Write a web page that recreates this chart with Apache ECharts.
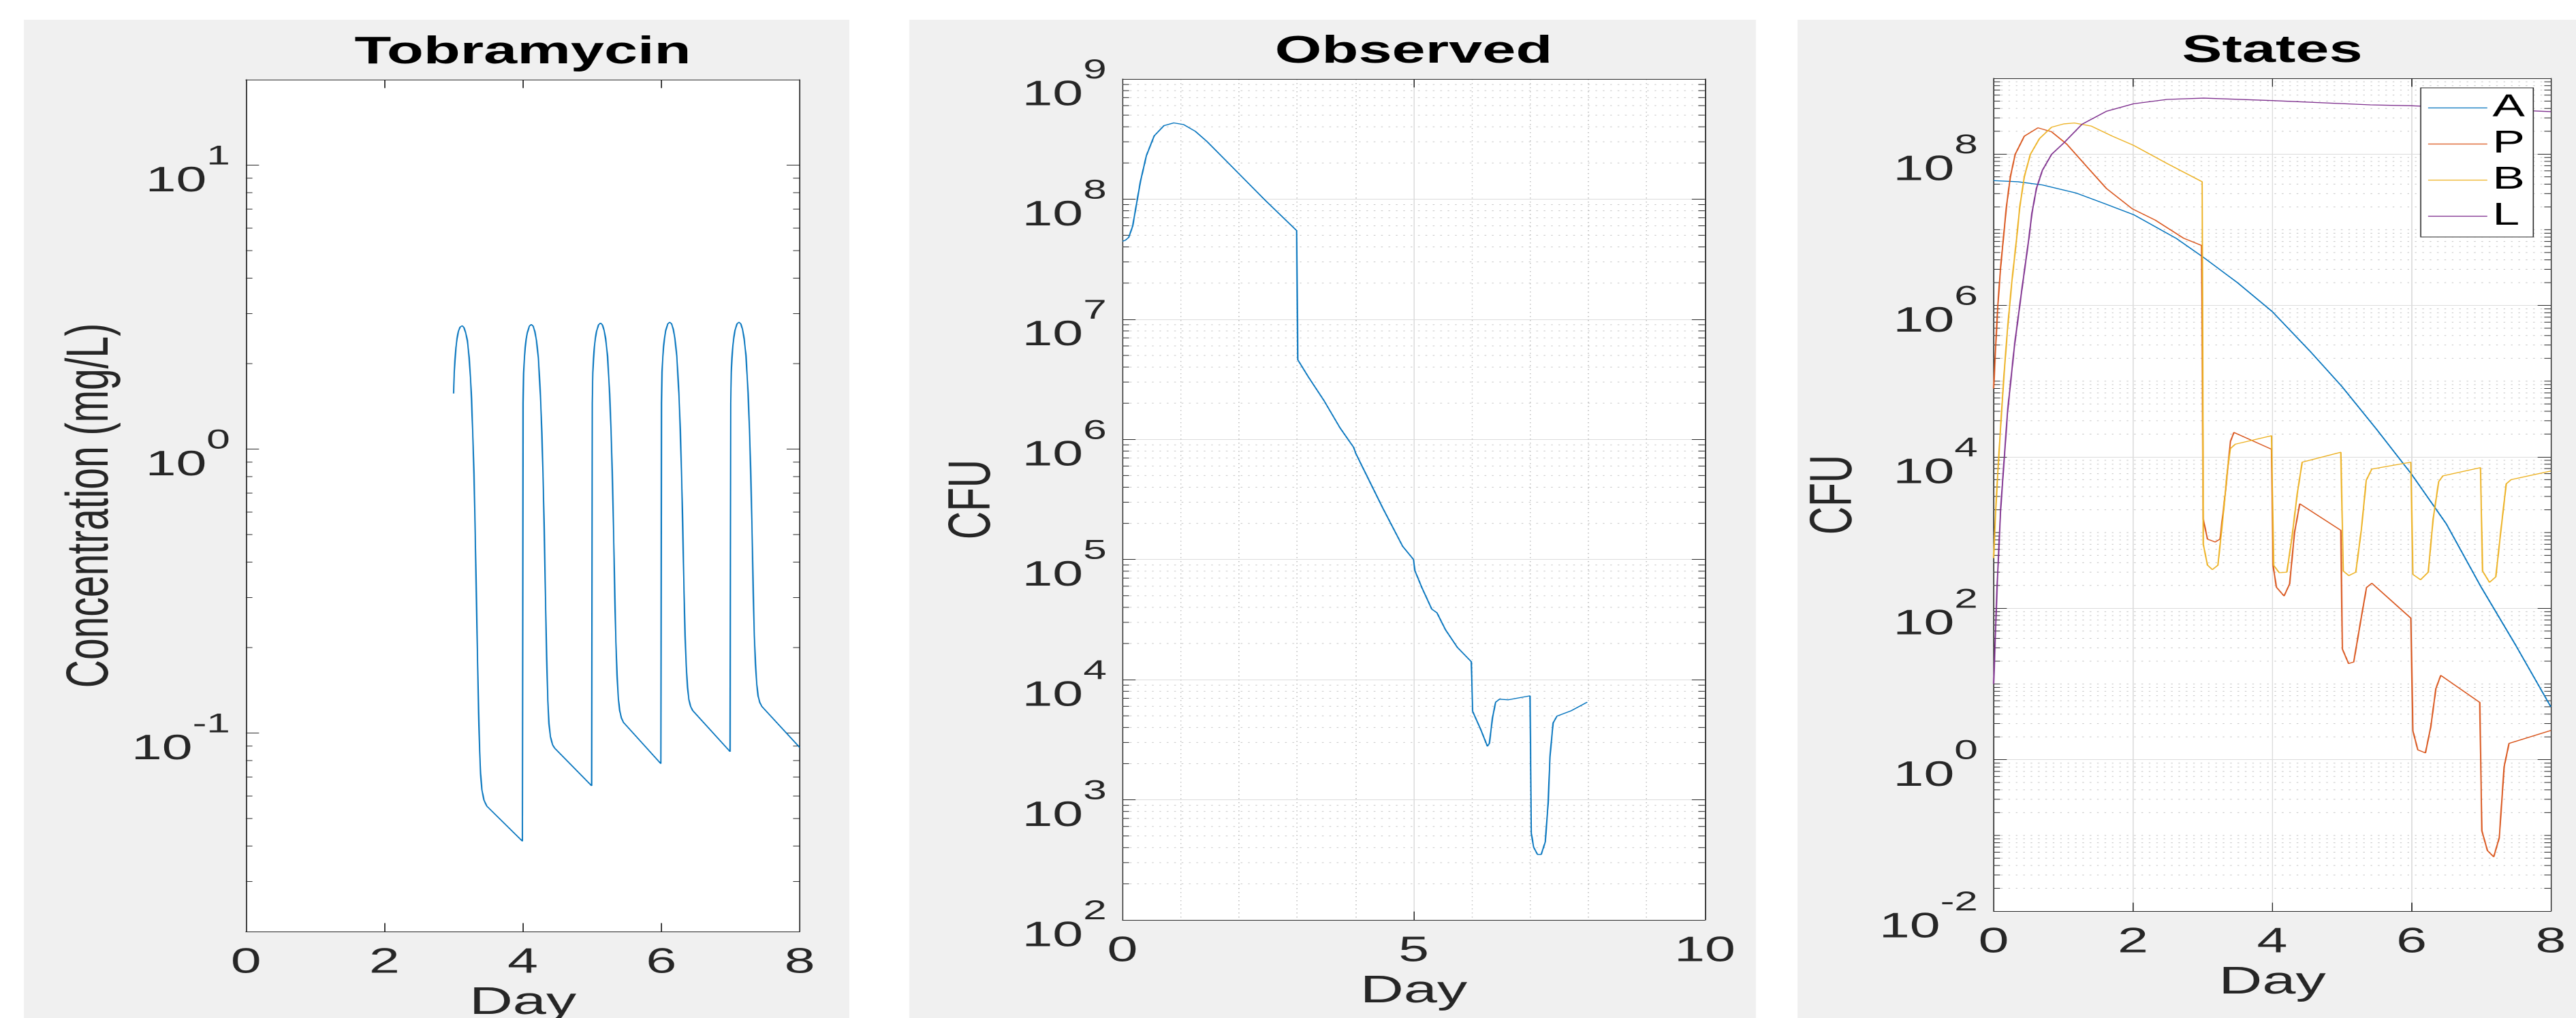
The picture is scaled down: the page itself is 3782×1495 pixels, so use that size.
<!DOCTYPE html>
<html>
<head>
<meta charset="utf-8">
<script src="https://cdn.jsdelivr.net/npm/echarts@6/dist/echarts.min.js"></script>
<style>
html,body{margin:0;padding:0;background:#fff;overflow:hidden;}
#wrap{width:3782px;height:1495px;overflow:hidden;position:relative;background:#fff;}
#chart{width:2440px;height:1495px;transform:scaleX(1.55);transform-origin:0 0;}
</style>
</head>
<body>
<div id="wrap"><div id="chart"></div></div>
<script>
// ---------------- data ----------------
const titles = ['Tobramycin', 'Observed', 'States'];
const legendNames = ['A', 'P', 'B', 'L'];

// Tobramycin concentration (mg/L) vs day
const tobramycin = [
 [3.000,1.57],[3.010,1.85],[3.020,2.05],[3.035,2.28],[3.050,2.45],[3.070,2.60],[3.095,2.69],[3.125,2.72],[3.150,2.68],[3.175,2.57],[3.200,2.41],[3.225,2.10],[3.245,1.78],[3.260,1.50],[3.280,1.08],[3.295,0.82],[3.310,0.55],[3.330,0.30],[3.345,0.19],[3.362,0.118],[3.375,0.090],[3.390,0.072],[3.410,0.063],[3.440,0.058],[3.480,0.0553],[3.995,0.0416],
 [4.000,0.0414],[4.004,1.45],[4.012,1.85],[4.022,2.06],[4.035,2.28],[4.050,2.45],[4.066,2.57],[4.095,2.71],[4.123,2.75],[4.150,2.71],[4.175,2.59],[4.198,2.41],[4.225,2.10],[4.255,1.55],[4.275,1.15],[4.292,0.82],[4.310,0.52],[4.330,0.28],[4.345,0.185],[4.362,0.130],[4.378,0.108],[4.400,0.097],[4.430,0.091],[4.460,0.0885],[4.995,0.0652],
 [5.000,0.065],[5.004,1.45],[5.012,1.86],[5.022,2.08],[5.035,2.30],[5.050,2.47],[5.066,2.60],[5.095,2.74],[5.123,2.78],[5.150,2.74],[5.175,2.62],[5.198,2.44],[5.225,2.12],[5.255,1.57],[5.275,1.17],[5.292,0.84],[5.310,0.54],[5.330,0.30],[5.345,0.21],[5.362,0.160],[5.380,0.133],[5.400,0.120],[5.425,0.113],[5.455,0.109],[5.995,0.078],
 [6.000,0.078],[6.004,1.45],[6.012,1.87],[6.022,2.09],[6.035,2.31],[6.050,2.48],[6.066,2.62],[6.095,2.76],[6.123,2.80],[6.150,2.76],[6.175,2.64],[6.198,2.45],[6.225,2.13],[6.255,1.58],[6.275,1.18],[6.292,0.85],[6.310,0.55],[6.330,0.31],[6.345,0.22],[6.362,0.172],[6.380,0.145],[6.400,0.131],[6.425,0.124],[6.455,0.120],[6.995,0.086],
 [7.000,0.086],[7.004,1.45],[7.012,1.87],[7.022,2.09],[7.035,2.31],[7.050,2.48],[7.066,2.62],[7.095,2.76],[7.123,2.80],[7.150,2.76],[7.175,2.64],[7.198,2.45],[7.225,2.13],[7.255,1.58],[7.275,1.18],[7.292,0.85],[7.310,0.55],[7.330,0.31],[7.345,0.22],[7.362,0.175],[7.380,0.149],[7.400,0.135],[7.425,0.128],[7.455,0.124],[8.000,0.089]
];

// Observed CFU vs day
const observed = [
 [0,4.46e7],[0.05,4.55e7],[0.107,4.8e7],[0.175,5.97e7],[0.242,9.2e7],[0.309,1.41e8],[0.41,2.3e8],[0.544,3.36e8],[0.712,4.09e8],[0.88,4.31e8],[1.048,4.18e8],[1.25,3.67e8],[1.45,3.02e8],[1.786,2.07e8],[2.12,1.42e8],[2.458,9.7e7],[2.99,5.47e7],
 [3.01,4.6e6],[3.197,3.28e6],[3.466,2.08e6],[3.734,1.25e6],[3.97,8.57e5],[4.003,7.7e5],[4.137,5.68e5],[4.473,2.66e5],[4.81,1.29e5],[4.997,1.0e5],[5.02,8.1e4],[5.14,5.85e4],[5.31,3.87e4],[5.40,3.6e4],[5.547,2.6e4],[5.749,1.86e4],[5.99,1.41e4],
 [6.012,5.46e3],[6.15,3.86e3],[6.266,2.79e3],[6.30,2.95e3],[6.353,4.8e3],[6.407,6.5e3],[6.474,6.88e3],[6.62,6.8e3],[6.998,7.34e3],
 [7.02,525],[7.06,403],[7.126,351],[7.19,351],[7.26,447],[7.31,955],[7.34,2270],[7.394,4360],[7.46,4970],[7.70,5500],[7.98,6500]
];

// States CFU vs day
const stateA = [
 [0,4.45e7],[0.35,4.3e7],[0.7,3.9e7],[1.18,3.06e7],[1.6,2.2e7],[2.01,1.58e7],[2.62,7.7e6],[3.0,4.4e6],[3.5,2.0e6],[4.0,8.3e5],[4.54,2.5e5],[5.0,8.5e4],[5.5,2.3e4],[6.0,5.9e3],[6.5,1.3e3],[7.0,190],[7.5,32],[8.0,5.0]
];
const stateP = [
 [0,8e4],[0.03,3e5],[0.06,1e6],[0.10,3.2e6],[0.14,7.7e6],[0.183,2.0e7],[0.24,5.0e7],[0.309,9.9e7],[0.44,1.72e8],[0.636,2.22e8],[0.83,1.97e8],[1.05,1.35e8],[1.357,6.5e7],[1.62,3.5e7],[1.99,1.89e7],[2.32,1.34e7],[2.73,7.7e6],[2.985,6.2e6],
 [3.01,1500],[3.07,820],[3.18,750],[3.25,820],[3.326,3300],[3.4,1.6e4],[3.45,2.1e4],[3.99,1.26e4],
 [4.01,375],[4.06,190],[4.17,145],[4.25,210],[4.32,1000],[4.395,2400],[4.985,1070],
 [5.007,29],[5.096,18.6],[5.17,19.5],[5.28,77],[5.354,188],[5.43,214],[5.99,74],
 [6.02,2.4],[6.09,1.35],[6.2,1.23],[6.276,2.7],[6.35,8.7],[6.42,13],[6.98,5.7],
 [7.01,0.115],[7.09,0.063],[7.18,0.052],[7.26,0.093],[7.33,0.81],[7.40,1.64],[8.0,2.43]
];
const stateB = [
 [0,460],[0.03,2e3],[0.06,6.3e3],[0.10,2.5e4],[0.15,1.26e5],[0.20,5e5],[0.26,2e6],[0.33,7.7e6],[0.375,2.0e7],[0.44,5.0e7],[0.527,9.9e7],[0.658,1.6e8],[0.832,2.26e8],[1.007,2.5e8],[1.16,2.57e8],[1.40,2.34e8],[1.705,1.72e8],[2.01,1.3e8],[2.49,7.5e7],[2.994,4.3e7],
 [3.01,700],[3.07,372],[3.14,324],[3.22,370],[3.29,1500],[3.36,7200],[3.40,1.29e4],[3.47,1.47e4],[3.99,1.9e4],
 [4.02,370],[4.1,295],[4.21,300],[4.28,820],[4.36,3300],[4.43,8500],[4.985,1.15e4],
 [5.02,310],[5.1,270],[5.2,300],[5.28,1100],[5.35,4900],[5.43,6900],[5.99,8500],
 [6.02,280],[6.13,238],[6.24,300],[6.31,1500],[6.39,4700],[6.45,5600],[6.99,7200],
 [7.02,310],[7.12,220],[7.21,260],[7.28,1000],[7.36,4400],[7.43,5000],[8.0,6500]
];
const stateL = [
 [0,10],[0.05,200],[0.1,2e3],[0.2,4e4],[0.3,3e5],[0.4,1.5e6],[0.506,7.7e6],[0.549,1.64e7],[0.614,3.5e7],[0.70,6.1e7],[0.832,9.9e7],[1.007,1.4e8],[1.27,2.48e8],[1.62,3.67e8],[2.01,4.61e8],[2.49,5.26e8],[3.016,5.48e8],[3.998,5.08e8],[5.41,4.46e8],[6.0,4.34e8],[8.0,3.63e8]
];

// axis ranges / ticks
const xTicks = [{min:0,max:8,interval:2},{min:0,max:10,interval:5},{min:0,max:8,interval:2}];
const yRanges = [[0.02,20],[1e2,1e9],[1e-2,1e9]];
const yExpInterval = [1,1,2];

// ---------------- layout ----------------
const SX = 1.55;               // horizontal stretch of the figure
const CW = 3782 / SX;
const FONT = '"Liberation Sans", Helvetica, Arial, sans-serif';
const AX = '#262626';
const MAJ = '#dcdcdc';
const MIN = '#c2c2c2';
// boxes in full-image pixels
const boxes = [
  {x0:361, x1:1174, y0:117, y1:1368, bg0:35,   bg1:1247, nameGap:118},
  {x0:1648,x1:2503, y0:116, y1:1351, bg0:1335, bg1:2578, nameGap:113},
  {x0:2927,x1:3745, y0:115, y1:1338, bg0:2639, bg1:3782, nameGap:122}
];
const yNames = ['Concentration (mg/L)', 'CFU', 'CFU'];
const gridOn = [false, true, true];

const grids = boxes.map(b => ({
  left: b.x0 / SX, top: b.y0, width: (b.x1 - b.x0) / SX, height: b.y1 - b.y0,
  show: true, backgroundColor: '#fff', borderWidth: 0, containLabel: false,
  outerBoundsMode: 'none'
}));

const graphics = boxes.map(b => ({
  type: 'rect', z: -100, silent: true,
  shape: {x: b.bg0 / SX, y: 29, width: (b.bg1 - b.bg0) / SX, height: 1495 - 29},
  style: {fill: '#f0f0f0'}
}));

const TL = 12.4;
const lineSt = {color: AX, width: 1};
const xAxes = [], yAxes = [];
boxes.forEach((b, i) => {
  const t = xTicks[i];
  xAxes.push({
    type: 'value', gridIndex: i, position: 'bottom', min: t.min, max: t.max, interval: t.interval,
    axisLine: {show: true, onZero: false, lineStyle: lineSt},
    axisTick: {show: true, inside: true, length: TL, lineStyle: lineSt},
    axisLabel: {show: true, margin: 20, fontSize: 52, color: AX, fontFamily: FONT},
    splitLine: {show: gridOn[i], showMinLine: false, showMaxLine: false, lineStyle: {color: MAJ, width: 1}},
    minorTick: {show: false, splitNumber: 5},
    minorSplitLine: {show: i === 1, lineStyle: {color: MIN, width: 1, type: [1.5, 4.5]}},
    name: 'Day', nameLocation: 'middle', nameGap: 76,
    nameTextStyle: {fontSize: 57, color: AX, fontFamily: FONT}
  });
  xAxes.push({
    type: 'value', gridIndex: i, position: 'top', min: t.min, max: t.max, interval: t.interval,
    axisLine: {show: true, onZero: false, lineStyle: lineSt},
    axisTick: {show: true, inside: true, length: TL, lineStyle: lineSt},
    axisLabel: {show: false}, splitLine: {show: false},
    name: titles[i], nameLocation: 'middle', nameGap: 11,
    nameTextStyle: {fontSize: 57, fontWeight: 'bold', color: '#000', fontFamily: FONT}
  });
  const r = yRanges[i];
  const lmin = Math.log10(r[0]), lmax = Math.log10(r[1]);
  // data axis (log scale)
  yAxes.push({type: 'log', logBase: 10, gridIndex: i, min: r[0], max: r[1], show: false});
  // tick / label axis in decades, aligned with the log axis
  const ov = {
    type: 'value', gridIndex: i, position: 'left', min: lmin, max: lmax,
    axisLine: {show: true, onZero: false, lineStyle: lineSt},
    axisTick: {show: true, inside: true, length: TL, lineStyle: lineSt},
    axisLabel: {
      show: true, margin: 15, fontSize: 52, color: AX, fontFamily: FONT, padding: [18, 0, 0, 0],
      showMinLabel: i !== 0, showMaxLabel: i === 1,
      formatter: v => '{b|10}{s|' + Math.round(v) + '}',
      rich: {
        b: {fontSize: 52, lineHeight: 82, verticalAlign: 'bottom', color: AX, fontFamily: FONT},
        s: {fontSize: 40, lineHeight: 40, verticalAlign: 'top', color: AX, fontFamily: FONT}
      }
    },
    splitLine: {show: gridOn[i], showMinLine: false, showMaxLine: false, lineStyle: {color: MAJ, width: 1}},
    name: yNames[i], nameLocation: 'middle', nameGap: b.nameGap, nameRotate: 90,
    nameTextStyle: {fontSize: 57, color: AX, fontFamily: FONT}
  };
  if (i === 0) ov.splitNumber = 3; else ov.interval = yExpInterval[i];
  yAxes.push(ov);
  const ovr = {
    type: 'value', gridIndex: i, position: 'right', min: lmin, max: lmax,
    axisLine: {show: true, onZero: false, lineStyle: lineSt},
    axisTick: {show: true, inside: true, length: TL, lineStyle: lineSt},
    axisLabel: {show: false}, splitLine: {show: false}
  };
  if (i === 0) ovr.splitNumber = 3; else ovr.interval = yExpInterval[i];
  yAxes.push(ovr);
});

// minor (log) ticks and minor grid
function minorValues(i) {
  const r = yRanges[i], step = yExpInterval[i];
  const lo = Math.floor(Math.log10(r[0])), hi = Math.ceil(Math.log10(r[1]));
  const out = [];
  for (let n = lo; n <= hi; n++) {
    for (let k = 1; k <= 9; k++) {
      if (k === 1 && (i === 0 || ((n - lo) % step === 0 && (n - Math.ceil(Math.log10(r[0]))) % step === 0))) continue;
      const v = k * Math.pow(10, n);
      if (v > r[0] * 1.0001 && v < r[1] * 0.9999) out.push(v);
    }
  }
  return out;
}
function minorSeries(i) {
  const withGrid = gridOn[i];
  return {
    type: 'custom', xAxisIndex: 2 * i, yAxisIndex: 3 * i, silent: true, z: 1, clip: false,
    data: minorValues(i).map(v => [xTicks[i].min, v]),
    renderItem: function (params, api) {
      const cs = params.coordSys;
      const y = api.coord([api.value(0), api.value(1)])[1];
      const ch = [];
      if (withGrid) ch.push({type: 'line', shape: {x1: cs.x, y1: y, x2: cs.x + cs.width, y2: y},
        style: {stroke: MIN, lineWidth: 1, lineDash: [1.5, 5.5]}});
      ch.push({type: 'line', shape: {x1: cs.x, y1: y, x2: cs.x + TL / 2, y2: y}, style: {stroke: AX, lineWidth: 1}});
      ch.push({type: 'line', shape: {x1: cs.x + cs.width - TL / 2, y1: y, x2: cs.x + cs.width, y2: y}, style: {stroke: AX, lineWidth: 1}});
      return {type: 'group', children: ch};
    }
  };
}

const COLORS = ['#0072BD', '#D95319', '#EDB120', '#7E2F8E'];
function lineSeries(name, data, i, color) {
  return {
    name: name, type: 'line', xAxisIndex: 2 * i, yAxisIndex: 3 * i, data: data,
    showSymbol: false, symbol: 'none', smooth: false, clip: true, z: 3,
    lineStyle: {color: color, width: 1.3}, itemStyle: {color: color}
  };
}

const option = {
  animation: false,
  backgroundColor: 'transparent',
  graphic: {elements: graphics},
  grid: grids,
  xAxis: xAxes,
  yAxis: yAxes,
  legend: {
    data: legendNames, orient: 'vertical', left: 3554 / SX, top: 129,
    padding: [3, 8, 4, 7], itemGap: 0, itemWidth: 56, itemHeight: 1.3, icon: 'rect',
    backgroundColor: '#fff', borderColor: AX, borderWidth: 1, borderRadius: 0,
    textStyle: {fontSize: 46, lineHeight: 53, color: '#000', fontFamily: FONT},
    selectedMode: false
  },
  series: [
    minorSeries(0), minorSeries(1), minorSeries(2),
    lineSeries('Tobramycin', tobramycin, 0, COLORS[0]),
    lineSeries('Observed', observed, 1, COLORS[0]),
    lineSeries('A', stateA, 2, COLORS[0]),
    lineSeries('P', stateP, 2, COLORS[1]),
    lineSeries('B', stateB, 2, COLORS[2]),
    lineSeries('L', stateL, 2, COLORS[3])
  ]
};

const chart = echarts.init(document.getElementById('chart'), null, {renderer: 'canvas', devicePixelRatio: 2});
chart.setOption(option);
</script>
</body>
</html>
